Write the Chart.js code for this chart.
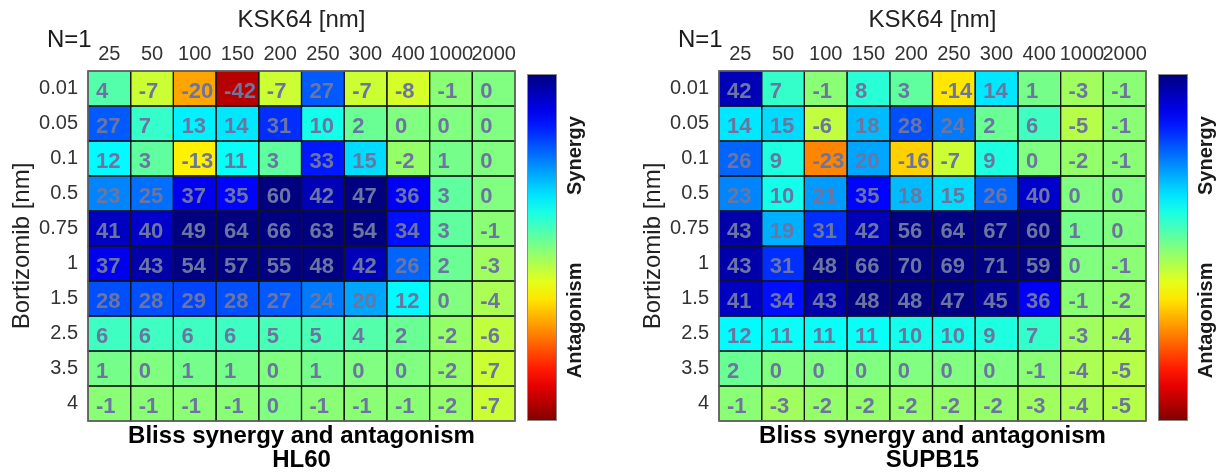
<!DOCTYPE html>
<html>
<head>
<meta charset="utf-8">
<script src="https://cdn.jsdelivr.net/npm/chart.js@4.4.1/dist/chart.umd.min.js"></script>
<style>
  body { margin: 0; background: #fff; overflow: hidden; }
  .panel { position: absolute; top: 0; }
</style>
</head>
<body>
<div class="panel" style="left:0px"><canvas id="hl60" width="614" height="472"></canvas></div>
<div class="panel" style="left:614px"><canvas id="supb15" width="614" height="472"></canvas></div>
<script>
const columns = ['25', '50', '100', '150', '200', '250', '300', '400', '1000', '2000'];
const rows = ['0.01', '0.05', '0.1', '0.5', '0.75', '1', '1.5', '2.5', '3.5', '4'];

// Bliss scores, one inner array per Bortizomib row
const hl60 = [
  [4, -7, -20, -42, -7, 27, -7, -8, -1, 0],
  [27, 7, 13, 14, 31, 10, 2, 0, 0, 0],
  [12, 3, -13, 11, 3, 33, 15, -2, 1, 0],
  [23, 25, 37, 35, 60, 42, 47, 36, 3, 0],
  [41, 40, 49, 64, 66, 63, 54, 34, 3, -1],
  [37, 43, 54, 57, 55, 48, 42, 26, 2, -3],
  [28, 28, 29, 28, 27, 24, 20, 12, 0, -4],
  [6, 6, 6, 6, 5, 5, 4, 2, -2, -6],
  [1, 0, 1, 1, 0, 1, 0, 0, -2, -7],
  [-1, -1, -1, -1, 0, -1, -1, -1, -2, -7]
];
const supb15 = [
  [42, 7, -1, 8, 3, -14, 14, 1, -3, -1],
  [14, 15, -6, 18, 28, 24, 2, 6, -5, -1],
  [26, 9, -23, 20, -16, -7, 9, 0, -2, -1],
  [23, 10, 21, 35, 18, 15, 26, 40, 0, 0],
  [43, 19, 31, 42, 56, 64, 67, 60, 1, 0],
  [43, 31, 48, 66, 70, 69, 71, 59, 0, -1],
  [41, 34, 43, 48, 48, 47, 45, 36, -1, -2],
  [12, 11, 11, 11, 10, 10, 9, 7, -3, -4],
  [2, 0, 0, 0, 0, 0, 0, -1, -4, -5],
  [-1, -3, -2, -2, -2, -2, -2, -3, -4, -5]
];

const colorLimit = 47;
const FONT = "'Liberation Sans', Arial, sans-serif";

// reversed jet: high synergy = dark blue, antagonism = dark red
function jet(t) {
  const c = v => Math.round(255 * Math.max(0, Math.min(1, v)));
  const r = 1.5 - Math.abs(4 * t - 3);
  const g = 1.5 - Math.abs(4 * t - 2);
  const b = 1.5 - Math.abs(4 * t - 1);
  return 'rgb(' + c(r) + ',' + c(g) + ',' + c(b) + ')';
}
function valueColor(v) {
  let t = (colorLimit - v) / (2 * colorLimit);
  t = Math.max(0, Math.min(1, t));
  return jet(t);
}

const heatPlugin = {
  id: 'heat',
  afterDatasetsDraw(chart) {
    const ctx = chart.ctx;
    const area = chart.chartArea;
    ctx.save();
    // cell edges
    ctx.strokeStyle = '#141414';
    ctx.lineWidth = 1.2;
    chart.data.datasets.forEach((ds, i) => {
      chart.getDatasetMeta(i).data.forEach(el => {
        const left = el.x - el.width / 2;
        ctx.strokeRect(left, Math.min(el.y, el.base), el.width, Math.abs(el.base - el.y));
      });
    });
    // outer frame
    ctx.strokeStyle = '#6a6a6a';
    ctx.lineWidth = 1.5;
    ctx.strokeRect(area.left, area.top, area.width, area.height);

    // cell numbers
    ctx.font = 'bold 22px ' + FONT;
    ctx.fillStyle = 'rgb(108,117,160)';
    ctx.textAlign = 'left';
    ctx.textBaseline = 'middle';
    chart.data.datasets.forEach((ds, i) => {
      chart.getDatasetMeta(i).data.forEach((el, j) => {
        const left = el.x - el.width / 2;
        const mid = (el.y + el.base) / 2;
        ctx.fillText(String(ds.values[j]), left + 8, mid + 3);
      });
    });
    ctx.restore();
  },
  afterDraw(chart) {
    const ctx = chart.ctx;
    const area = chart.chartArea;
    ctx.save();
    // N=1 note
    ctx.font = '24px ' + FONT;
    ctx.fillStyle = '#1a1a1a';
    ctx.textAlign = 'left';
    ctx.textBaseline = 'alphabetic';
    ctx.fillText('N=1', area.left - 41, 47);

    // colorbar
    const x = area.right + 12, w = 30, top = area.top + 3, bottom = area.bottom;
    const grad = ctx.createLinearGradient(0, top, 0, bottom);
    for (let k = 0; k <= 20; k++) grad.addColorStop(k / 20, jet(k / 20));
    ctx.fillStyle = grad;
    ctx.fillRect(x, top, w, bottom - top);
    ctx.strokeStyle = '#8a8a8a';
    ctx.strokeRect(x + 0.5, top + 0.5, w - 1, bottom - top - 1);

    ctx.font = 'bold 20px ' + FONT;
    ctx.fillStyle = '#1a1a1a';
    ctx.textAlign = 'center';
    ctx.textBaseline = 'middle';
    const h = bottom - top;
    [['Synergy', 0.235], ['Antagonism', 0.71]].forEach(([txt, f]) => {
      ctx.save();
      ctx.translate(x + w + 18, top + f * h);
      ctx.rotate(-Math.PI / 2);
      ctx.fillText(txt, 0, 0);
      ctx.restore();
    });
    ctx.restore();
  }
};

function makePanel(id, values, cellLine, padLeft, padRight) {
  const datasets = rows.map((r, i) => ({
    label: r,
    values: values[i],
    data: columns.map(() => [i, i + 1]),
    backgroundColor: values[i].map(valueColor),
    borderWidth: 0,
    borderSkipped: false,
    barPercentage: 1,
    categoryPercentage: 1,
    grouped: false,
    inflateAmount: 0.5
  }));

  new Chart(document.getElementById(id), {
    type: 'bar',
    data: { labels: columns, datasets: datasets },
    options: {
      responsive: false,
      animation: false,
      layout: { padding: { left: padLeft, right: padRight, top: 0, bottom: 0 } },
      plugins: {
        legend: { display: false },
        tooltip: { enabled: false },
        title: {
          display: true,
          position: 'bottom',
          fullSize: false,
          text: ['Bliss synergy and antagonism', cellLine],
          color: '#000',
          font: { family: FONT, size: 24, weight: 'bold', lineHeight: 1.0 },
          padding: { top: 3, bottom: 0 }
        }
      },
      scales: {
        x: {
          type: 'category',
          position: 'top',
          offset: true,
          grid: { display: false, drawTicks: false },
          border: { display: false },
          ticks: {
            autoSkip: false, maxRotation: 0, padding: 5,
            color: '#333', font: { family: FONT, size: 20 }
          },
          title: {
            display: true, text: 'KSK64 [nm]', color: '#222',
            font: { family: FONT, size: 24 }, padding: { top: 6, bottom: 0 }
          },
          afterFit(scale) { scale.height = 71; }
        },
        y: {
          type: 'linear',
          min: 0, max: 10,
          reverse: true,
          display: false
        },
        yl: {
          type: 'category',
          labels: rows,
          position: 'left',
          offset: true,
          grid: { display: false, drawTicks: false },
          border: { display: false },
          ticks: {
            autoSkip: false, padding: 10,
            color: '#333', font: { family: FONT, size: 20 }
          },
          title: {
            display: true, text: 'Bortizomib [nm]', color: '#222',
            font: { family: FONT, size: 24 }, padding: { top: 8, bottom: 0 }
          },
          afterFit(scale) { scale.width = 88; }
        }
      }
    },
    plugins: [heatPlugin]
  });
}

makePanel('hl60', hl60, 'HL60', 0, 99);
makePanel('supb15', supb15, 'SUPB15', 17, 82);
</script>
</body>
</html>
